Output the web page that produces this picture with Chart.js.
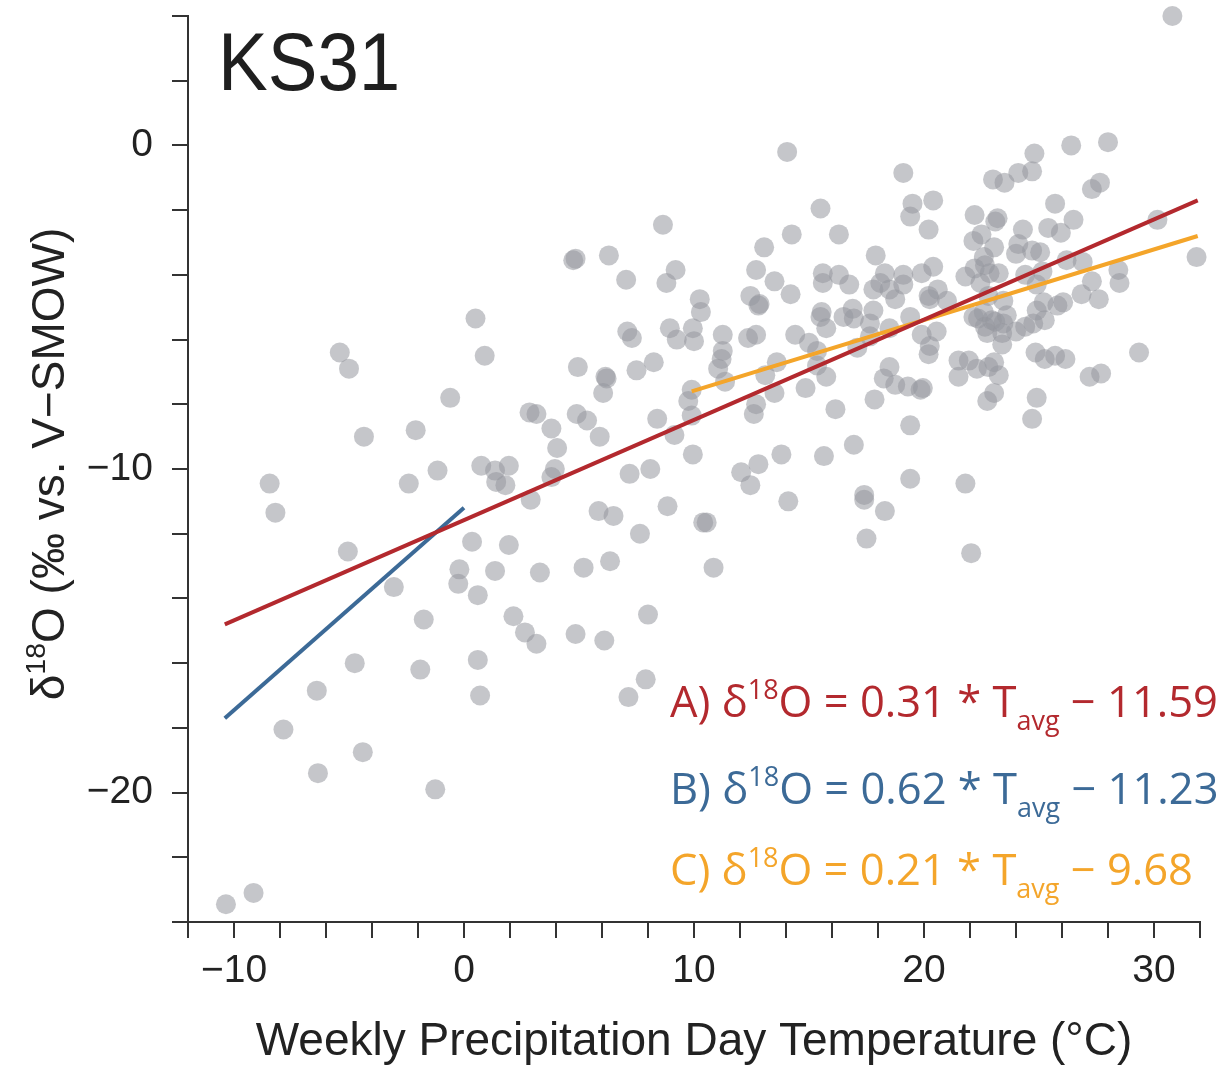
<!DOCTYPE html>
<html>
<head>
<meta charset="utf-8">
<script src="https://cdn.jsdelivr.net/npm/chart.js@4.4.0/dist/chart.umd.min.js"></script>
<style>
  html, body { margin: 0; padding: 0; background: #fff; }
</style>
</head>
<body>
<canvas id="graficoKS31" width="1220" height="1065"></canvas>
<script>
// weekly samples: precipitation day temperature (°C) and d18O (permil)
const tempSemanal = [
  30.8, 19.1, 19.5, 19.4, 20.4, 20.2, 26.4, 28.0, 24.8, 24.7, 24.1, 23.0, 23.5, 27.65, 27.3, 25.7, 26.5, 22.2, 23.2, 23.1,
  24.3, 25.4, 25.95, 30.15, 31.85, 17.9, 22.15, 22.5, 23.05, 22.6, 22.65, 24.1, 24.0, 24.7, 25.05, 26.2, 26.9, 28.45, 28.5, 27.3,
  26.85, 27.6, 22.2, 21.8, 22.85, 23.25, 22.45, 24.4, 25.15, 24.9, 26.05, 25.8, 25.2, 24.9, 25.25, 24.75, 24.4, 24.0, 23.45, 23.6,
  23.1, 23.45, 23.4, 23.4, 22.75, 22.35, 22.15, 22.65, 22.95, 22.6, 22.8, 20.55, 19.9, 20.25, 20.2, 19.4, 18.5, 17.65, 17.65, 20.25,
  20.2, 20.6, 21.0, 20.4, 19.9, 19.1, 19.1, 18.3, 18.1, 17.8, 18.5, 18.75, 17.8, 21.95, 21.5, 21.5, 22.3, 23.05, 23.25, 22.8,
  24.85, 25.25, 25.7, 26.15, 29.35, 27.2, 27.7, 24.9, 23.05, 22.75, 24.7, 19.4, 18.5, 18.75, 18.25, 17.85, 19.3, 19.95, 19.85,
  14.05, 15.5, 8.65, 14.25, 16.3, 13.05, 4.75, 4.85, 6.3, 7.05, 9.2, 8.8, 12.7, 13.5, 14.2, 15.6, 15.6, 16.3, 16.75, 10.25,
  10.3, 12.45, 12.85, 12.8, 15.55, 15.5, 15.75, 16.9, 16.5, 16.95, 7.1, 7.3, 8.95, 9.25, 9.95, 10.0, 11.25, 12.35, 12.7, 14.4,
  15.0, 15.35, 17.1, 11.25, 11.2, 11.05, 11.35, 13.6, 13.1, 13.5, 14.85, 15.75, 15.35, 16.15, 16.95, 15.65, 13.8, 12.8, 12.05, 12.6,
  12.7, 9.95, 9.9, 9.75, 9.9, 9.15, 8.4, 8.1, 7.2, 4.95, 6.15, 6.2, 6.05, 7.5, 8.25, 4.9, 5.35, 5.9, 3.15, 2.85,
  3.8, 4.05, 3.95, 3.8, 0.5, 0.9, -5.4, -5.0, -0.6, -4.35, -2.1, -8.45, -8.2, -2.4, -1.15, 0.75, 1.35, 1.95, 1.4, 1.8,
  2.9, -5.05, 0.35, 1.95, -0.2, -0.25, 1.35, 0.6, -3.05, 3.3, -1.75, 2.15, -7.85, -4.4, -6.35, -1.25, -10.35, -9.15, -4.75, -1.9,
  0.6, 0.7, -6.4, 2.65, 3.15, 4.85, 6.1, 5.2, 6.35, 5.85, 6.5, 7.65, 8.0, 7.9, 7.15, 8.85, 10.4, 10.55, 10.85, 12.45,
  14.1, 17.4, 17.4, 18.3, 17.5, 19.4, 21.8, 22.05
];
const delta18O = [
  4.0, -0.85, -1.8, -2.2, -1.7, -2.6, 0.0, 0.1, -0.25, -0.8, -0.85, -1.05, -1.15, -1.15, -1.35, -1.8, -2.3, -2.15, -2.25, -2.35,
  -2.6, -2.55, -2.7, -2.3, -3.45, -3.4, -2.95, -2.75, -3.15, -3.45, -3.7, -3.05, -3.35, -3.25, -3.3, -3.55, -3.6, -3.85, -4.25, -4.2,
  -4.6, -4.75, -3.8, -4.05, -3.95, -3.95, -4.25, -4.0, -3.9, -4.3, -4.85, -4.95, -4.85, -5.1, -5.4, -5.5, -5.6, -5.75, -4.8, -5.25,
  -5.45, -5.5, -5.8, -6.15, -5.8, -5.35, -5.3, -5.6, -5.4, -5.15, -4.65, -5.75, -5.85, -6.2, -6.45, -5.3, -5.65, -5.9, -5.5, -4.75,
  -4.65, -4.45, -4.8, -3.75, -3.95, -4.0, -4.3, -3.95, -4.25, -4.45, -4.45, -4.75, -5.1, -6.65, -6.65, -7.15, -6.9, -6.7, -7.1, -6.85,
  -6.4, -6.6, -6.5, -6.6, -6.4, -7.15, -7.05, -7.8, -7.65, -7.9, -8.45, -8.65, -6.85, -7.4, -7.2, -7.85, -7.45, -7.5, -7.55,
  -0.2, -1.95, -2.45, -2.75, -2.75, -3.15, -3.55, -3.5, -3.4, -4.15, -3.85, -4.25, -3.85, -4.2, -4.6, -3.95, -4.25, -4.0, -4.3, -4.75,
  -5.15, -4.65, -4.9, -4.95, -5.15, -5.3, -5.65, -5.05, -5.3, -5.35, -5.75, -5.95, -5.65, -6.0, -5.65, -6.05, -5.85, -5.95, -5.85, -5.85,
  -6.1, -6.35, -6.25, -6.35, -6.6, -6.9, -7.3, -6.7, -7.1, -7.65, -7.5, -7.15, -6.8, -8.15, -9.25, -9.6, -9.55, -9.85, -10.1, -8.3,
  -8.0, -9.55, -8.35, -7.9, -7.55, -8.95, -8.45, -10.0, -10.15, -6.85, -7.15, -7.2, -7.65, -6.95, -6.7, -8.3, -8.5, -9.0, -8.3, -8.25,
  -8.75, -9.35, -10.0, -10.25, -5.35, -6.5, -6.4, -6.9, -7.8, -9.0, -8.8, -10.45, -11.35, -10.45, -10.05, -9.9, -10.05, -9.9, -10.4, -10.5,
  -10.95, -12.55, -12.25, -12.35, -13.1, -13.55, -13.15, -13.9, -13.65, -13.2, -14.65, -14.55, -18.05, -18.75, -19.4, -19.9, -23.45, -23.1, -16.0, -16.2,
  -15.9, -17.0, -16.85, -15.05, -15.4, -15.1, -15.3, -13.05, -12.85, -11.3, -11.45, -12.0, -14.5, -16.5, -17.05, -11.15, -11.65, -11.65, -13.05, -10.5,
  -11.0, -10.8, -10.95, -11.3, -12.15, -10.3, -10.45, -12.6
];

// regression lines (end points)
const linhaA_x = [-10.4, 31.9], linhaA_y = [-14.8, -1.7];
const linhaB_x = [-10.4, 0.0],  linhaB_y = [-17.7, -11.2];
const linhaC_x = [9.9, 31.9],   linhaC_y = [-7.6, -2.8];

const rotulos = ['A', 'B', 'C'];
const inclinacao = ['0.31', '0.62', '0.21'];
const intercepto = ['11.59', '11.23', '9.68'];
const cores = ['#b3292e', '#3c6a97', '#f4a52a'];

const xTickLabels = [-10, 0, 10, 20, 30];
const yTickLabels = [-20, -10, 0];

const fonte = '"Liberation Sans", Arial, sans-serif';
const fonteEq = '"Open Sans", "Liberation Sans", sans-serif';

function pontos(xs, ys) {
  return xs.map((x, i) => ({ x: x, y: ys[i] }));
}
function menos(v) {
  return v < 0 ? '\u2212' + Math.abs(v) : String(v);
}

// text with superscript / subscript pieces
function textoRico(ctx, partes, x, y, tam, familia, cor, centro) {
  const itens = partes.map(([t, k]) => {
    const s = k === 'n' ? tam : tam * 0.62;
    const dy = k === 'sup' ? -tam * 0.42 : (k === 'sub' ? tam * 0.3 : 0);
    ctx.font = s + 'px ' + familia;
    return { t: t, s: s, dy: dy, w: ctx.measureText(t).width };
  });
  const total = itens.reduce((a, b) => a + b.w, 0);
  let cx = centro ? x - total / 2 : x;
  ctx.fillStyle = cor;
  ctx.textAlign = 'left';
  ctx.textBaseline = 'alphabetic';
  itens.forEach(it => {
    ctx.font = it.s + 'px ' + familia;
    ctx.fillText(it.t, cx, y + it.dy);
    cx += it.w;
  });
}

const textos = {
  id: 'textos',
  afterDraw(chart) {
    const ctx = chart.ctx;
    ctx.save();
    // station name
    ctx.save();
    ctx.translate(218, 90);
    ctx.scale(0.92, 1);
    ctx.fillStyle = '#1f1f1f';
    ctx.font = '81px ' + fonte;
    ctx.textAlign = 'left';
    ctx.textBaseline = 'alphabetic';
    ctx.fillText('KS31', 0, 0);
    ctx.restore();

    // y axis title
    ctx.save();
    ctx.translate(64, 464);
    ctx.rotate(-Math.PI / 2);
    textoRico(ctx, [['\u03b4', 'n'], ['18', 'sup'], ['O (\u2030 vs. V\u2212SMOW)', 'n']], 0, 0, 46, fonte, '#222', true);
    ctx.restore();

    // equations
    const base = [717, 804, 885];
    rotulos.forEach((r, i) => {
      textoRico(ctx, [
        [r + ') \u03b4', 'n'], ['18', 'sup'],
        ['O = ' + inclinacao[i] + ' * T', 'n'], ['avg', 'sub'],
        [' \u2212 ' + intercepto[i], 'n']
      ], 670, base[i], 43.5, fonteEq, cores[i], false);
    });
    ctx.restore();
  }
};

const ctx = document.getElementById('graficoKS31').getContext('2d');
new Chart(ctx, {
  type: 'scatter',
  data: {
    datasets: [
      { data: pontos(linhaA_x, linhaA_y), showLine: true, borderColor: cores[0], borderWidth: 4, pointRadius: 0, order: 1 },
      { data: pontos(linhaB_x, linhaB_y), showLine: true, borderColor: cores[1], borderWidth: 4, pointRadius: 0, order: 1 },
      { data: pontos(linhaC_x, linhaC_y), showLine: true, borderColor: cores[2], borderWidth: 4, pointRadius: 0, order: 1 },
      {
        data: pontos(tempSemanal, delta18O),
        backgroundColor: 'rgba(150, 152, 158, 0.55)',
        borderWidth: 0,
        pointRadius: 10,
        clip: false,
        order: 2
      }
    ]
  },
  options: {
    responsive: false,
    animation: false,
    devicePixelRatio: 1,
    layout: { padding: { top: 16, right: 20, left: 0, bottom: 0 } },
    plugins: { legend: { display: false }, tooltip: { enabled: false } },
    scales: {
      x: {
        type: 'linear',
        min: -12,
        max: 32,
        afterFit(s) { s.height = 143; s.paddingLeft = 0; s.paddingRight = 0; },
        ticks: {
          stepSize: 2,
          autoSkip: false,
          maxRotation: 0,
          padding: 10,
          color: '#222',
          font: { family: fonte, size: 39 },
          callback: v => xTickLabels.includes(v) ? menos(v) : ''
        },
        grid: { drawOnChartArea: false, tickLength: 16, color: '#333', lineWidth: 2 },
        border: { color: '#333', width: 2 },
        title: {
          display: true,
          text: 'Weekly Precipitation Day Temperature (\u00b0C)',
          color: '#222',
          font: { family: fonte, size: 46, lineHeight: 1 },
          padding: { top: 0, bottom: 0 }
        }
      },
      y: {
        type: 'linear',
        min: -24,
        max: 4,
        afterFit(s) { s.width = 188; s.paddingTop = 0; s.paddingBottom = 0; },
        ticks: {
          stepSize: 2,
          autoSkip: false,
          padding: 19,
          color: '#222',
          font: { family: fonte, size: 39 },
          callback: v => yTickLabels.includes(v) ? menos(v) : ''
        },
        grid: { drawOnChartArea: false, tickLength: 16, color: '#333', lineWidth: 2 },
        border: { color: '#333', width: 2 }
      }
    }
  },
  plugins: [textos]
});
</script>
</body>
</html>
